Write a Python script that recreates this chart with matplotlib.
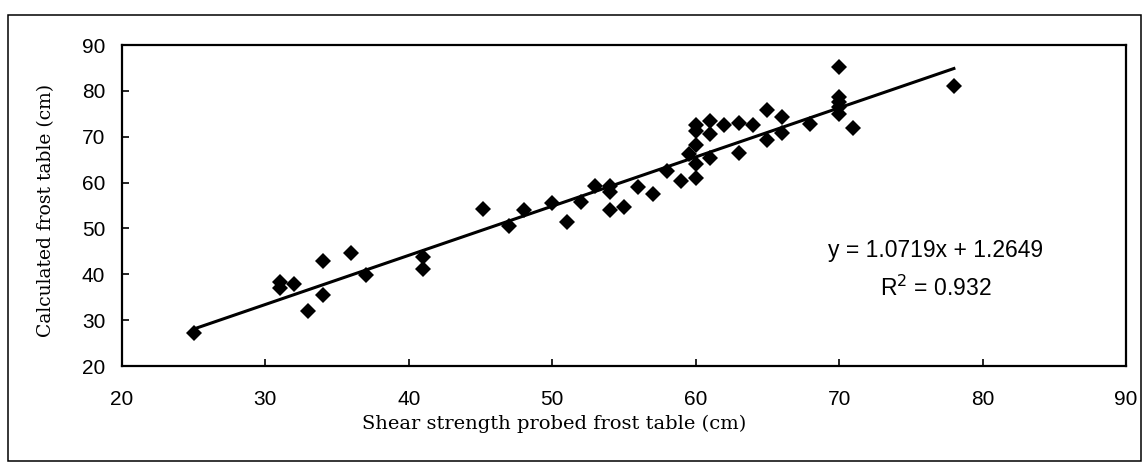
import numpy as np
import matplotlib.pyplot as plt
from matplotlib.patches import Rectangle

# shear strength probed frost table (cm) vs calculated frost table (cm)
probed = [25, 31, 31, 32, 33, 34, 34, 36, 37, 41, 41,
          45.2, 47, 48, 50, 51, 52, 53, 54, 54, 54, 55, 56, 57, 58, 59,
          60, 60, 59.5, 60, 60, 60, 61, 61, 61, 62, 63, 63, 64,
          65, 66, 65, 66, 68, 70, 70, 70, 70, 70, 71, 78]
calculated = [27.1, 38.3, 37.0, 37.8, 32.0, 42.9, 35.5, 44.6, 39.9, 43.7, 41.2,
              54.3, 50.6, 54.0, 55.5, 51.3, 55.7, 59.3, 59.2, 58.0, 54.1, 54.7, 59.0, 57.4, 62.6, 60.4,
              61.1, 64.0, 66.2, 68.3, 71.3, 72.5, 65.4, 73.4, 70.5, 72.5, 72.9, 66.4, 72.5,
              75.8, 74.4, 69.3, 70.8, 72.8, 85.3, 78.6, 77.5, 76.4, 75.0, 71.9, 81.0]

# linear trendline shown on the chart
slope = 1.0719
intercept = 1.2649
r2 = 0.932
fit_x = np.array([25, 78])

W, H = 1144, 466
fig = plt.figure(figsize=(W / 100, H / 100), dpi=100)
ax = fig.add_axes([122 / W, 1 - 366 / H, (1126 - 122) / W, (366 - 45) / H])

ax.plot(probed, calculated, linestyle='none', marker='D', markersize=7.8,
        markeredgewidth=0, color='black', zorder=3)
ax.plot(fit_x, slope * fit_x + intercept, color='black', linewidth=2.2)

ax.set_xlim(20, 90)
ax.set_ylim(20, 90)
ax.set_xticks(np.arange(20, 91, 10))
ax.set_yticks(np.arange(20, 91, 10))
for s in ax.spines.values():
    s.set_linewidth(1.6)
ax.tick_params(axis='both', direction='in', length=5, width=1.2,
               labelsize=15, labelfontfamily='Liberation Sans')
ax.tick_params(axis='y', pad=12)
ax.tick_params(axis='x', pad=17)

fig.text(46 / W, 1 - 210 / H, 'Calculated frost table (cm)', rotation=90,
         ha='center', va='center', fontsize=13.5, family='DejaVu Serif')
fig.text(554 / W, 1 - 424 / H, 'Shear strength probed frost table (cm)',
         ha='center', va='center', fontsize=14, family='DejaVu Serif')

fig.text(936 / W, 1 - 251 / H, f'y = {slope}x + {intercept}', ha='center', va='center',
         fontsize=16.5, family='Liberation Sans')
fig.text(936 / W, 1 - 288 / H, f'R$^2$ = {r2}', ha='center', va='center',
         fontsize=16.5, family='Liberation Sans')

# outer chart border
fig.patches.append(Rectangle((8 / W, 1 - 461 / H), (1141 - 8) / W, (461 - 15) / H,
                             transform=fig.transFigure, fill=False,
                             edgecolor='black', linewidth=1.1))

fig.savefig('out.png', dpi=100)
